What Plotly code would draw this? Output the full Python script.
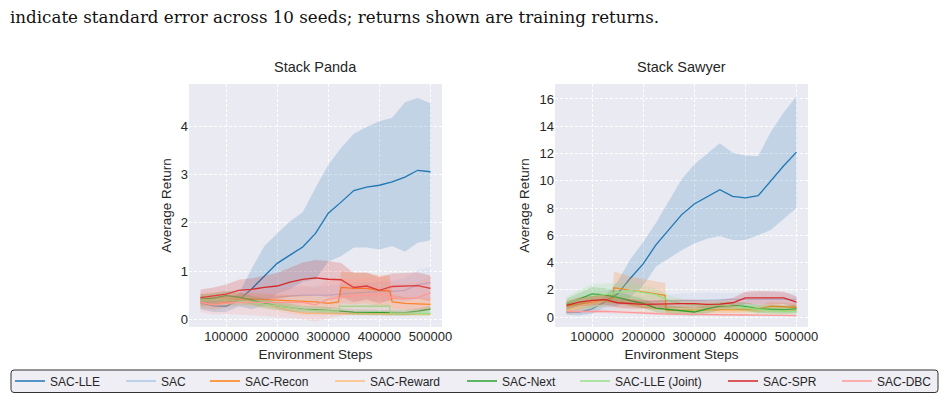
import plotly.graph_objects as go

# ---------------- data ----------------
STEPS = [50000, 75000, 100000, 125000, 150000, 175000, 200000, 225000, 250000, 275000,
         300000, 325000, 350000, 375000, 400000, 425000, 450000, 475000, 500000]

SERIES = ["SAC-LLE", "SAC", "SAC-Recon", "SAC-Reward", "SAC-Next", "SAC-LLE (Joint)", "SAC-SPR", "SAC-DBC"]
COLORS = ["#1f77b4", "#aec7e8", "#ff7f0e", "#ffbb78", "#2ca02c", "#98df8a", "#d62728", "#ff9896"]

X_TICKS = [100000, 200000, 300000, 400000, 500000]
PANDA_Y_TICKS = [0, 1, 2, 3, 4]
SAWYER_Y_TICKS = [0, 2, 4, 6, 8, 10, 12, 14, 16]

# ---- Stack Panda ----
PANDA_LLE_MEAN = [0.35, 0.28, 0.27, 0.40, 0.63, 0.90, 1.16, 1.33, 1.50, 1.78, 2.20, 2.43, 2.67, 2.74, 2.78, 2.85, 2.95, 3.09, 3.06]
PANDA_LLE_SE = [0.14, 0.13, 0.12, 0.13, 0.42, 0.62, 0.62, 0.70, 0.72, 0.95, 1.00, 1.12, 1.18, 1.25, 1.33, 1.33, 1.55, 1.50, 1.42]

PANDA_SAC_MEAN = [0.35, 0.36, 0.38, 0.40, 0.42, 0.44, 0.45, 0.47, 0.50, 0.50, 0.50, 0.52, 0.54, 0.56, 0.58, 0.58, 0.60, 0.72, 0.76]
PANDA_SAC_SE = [0.12, 0.12, 0.12, 0.13, 0.14, 0.15, 0.16, 0.17, 0.18, 0.18, 0.20, 0.20, 0.20, 0.20, 0.20, 0.22, 0.25, 0.30, 0.33]

PANDA_RECON_STEPS = [50000, 75000, 100000, 125000, 150000, 175000, 200000, 225000, 250000, 275000, 300000,
                     320000, 325000, 350000, 375000, 400000, 420000, 425000, 450000, 475000, 500000]
PANDA_RECON_MEAN = [0.35, 0.30, 0.35, 0.42, 0.42, 0.41, 0.40, 0.39, 0.38, 0.36, 0.33,
                    0.36, 0.66, 0.64, 0.64, 0.60, 0.59, 0.36, 0.33, 0.32, 0.31]
PANDA_RECON_SE = [0.12, 0.10, 0.10, 0.12, 0.12, 0.12, 0.12, 0.12, 0.12, 0.12, 0.12,
                  0.12, 0.33, 0.33, 0.32, 0.32, 0.32, 0.15, 0.13, 0.12, 0.12]

PANDA_REWARD_MEAN = [0.42, 0.45, 0.45, 0.42, 0.38, 0.32, 0.25, 0.18, 0.13, 0.12, 0.12, 0.12, 0.12, 0.11, 0.11, 0.11, 0.10, 0.10, 0.10]
PANDA_REWARD_SE = [0.12, 0.12, 0.12, 0.10, 0.10, 0.09, 0.08, 0.07, 0.05, 0.05, 0.04, 0.04, 0.04, 0.04, 0.04, 0.03, 0.03, 0.03, 0.03]

PANDA_NEXT_MEAN = [0.42, 0.44, 0.49, 0.46, 0.40, 0.33, 0.28, 0.24, 0.21, 0.20, 0.19, 0.17, 0.15, 0.15, 0.14, 0.14, 0.14, 0.17, 0.21]
PANDA_NEXT_SE = [0.10, 0.10, 0.10, 0.10, 0.09, 0.09, 0.08, 0.08, 0.07, 0.07, 0.07, 0.06, 0.06, 0.06, 0.06, 0.06, 0.06, 0.06, 0.07]

PANDA_JOINT_STEPS = [50000, 75000, 100000, 125000, 150000, 175000, 200000, 225000, 250000, 275000, 300000,
                     320000, 322000, 350000, 375000, 400000, 420000, 422000, 450000, 475000, 500000]
PANDA_JOINT_MEAN = [0.40, 0.40, 0.40, 0.38, 0.35, 0.32, 0.28, 0.24, 0.20, 0.18, 0.17,
                    0.17, 0.27, 0.27, 0.27, 0.27, 0.27, 0.13, 0.12, 0.12, 0.12]
PANDA_JOINT_SE = [0.12, 0.12, 0.10, 0.10, 0.10, 0.09, 0.08, 0.07, 0.06, 0.06, 0.06,
                  0.06, 0.05, 0.05, 0.05, 0.05, 0.05, 0.05, 0.05, 0.05, 0.05]

PANDA_SPR_MEAN = [0.45, 0.48, 0.52, 0.60, 0.62, 0.66, 0.69, 0.77, 0.83, 0.86, 0.83, 0.82, 0.66, 0.69, 0.60, 0.68, 0.69, 0.70, 0.64]
PANDA_SPR_SE = [0.17, 0.18, 0.20, 0.22, 0.23, 0.25, 0.27, 0.30, 0.35, 0.37, 0.38, 0.35, 0.30, 0.28, 0.27, 0.27, 0.27, 0.27, 0.27]

PANDA_DBC_MEAN = [0.35, 0.30, 0.33, 0.35, 0.35, 0.35, 0.34, 0.35, 0.35, 0.30, 0.42, 0.45, 0.49, 0.50, 0.52, 0.45, 0.42, 0.45, 0.55]
PANDA_DBC_SE = [0.20, 0.20, 0.22, 0.25, 0.27, 0.28, 0.30, 0.32, 0.35, 0.35, 0.40, 0.38, 0.35, 0.35, 0.35, 0.33, 0.32, 0.32, 0.35]

# ---- Stack Sawyer ----
SAWYER_LLE_MEAN = [0.37, 0.37, 0.60, 1.10, 1.70, 2.85, 3.90, 5.30, 6.40, 7.50, 8.30, 8.85, 9.35, 8.85, 8.75, 8.90, 10.0, 11.1, 12.1]
SAWYER_LLE_SE = [0.20, 0.25, 0.35, 0.40, 0.90, 1.40, 1.60, 1.60, 2.10, 2.60, 2.90, 3.10, 3.40, 3.20, 3.10, 2.90, 3.60, 3.90, 4.10]

SAWYER_SAC_MEAN = [0.50, 0.60, 0.80, 0.90, 1.00, 1.05, 1.10, 1.15, 1.20, 1.20, 1.20, 1.25, 1.25, 1.30, 1.30, 1.30, 1.35, 1.30, 1.30]
SAWYER_SAC_SE = [0.30, 0.35, 0.40, 0.45, 0.50, 0.50, 0.50, 0.50, 0.50, 0.50, 0.55, 0.55, 0.50, 0.50, 0.50, 0.50, 0.50, 0.50, 0.45]

SAWYER_RECON_STEPS = [50000, 75000, 100000, 125000, 140000, 143000, 160000, 175000, 200000, 225000, 243000,
                      245000, 275000, 300000, 325000, 350000, 375000, 400000, 425000, 450000, 475000, 500000]
SAWYER_RECON_MEAN = [0.80, 0.95, 1.10, 1.25, 1.40, 2.15, 2.05, 1.95, 1.85, 1.70, 1.60,
                     0.50, 0.55, 0.50, 0.55, 0.55, 0.55, 0.55, 0.60, 0.80, 0.75, 0.70]
SAWYER_RECON_SE = [0.40, 0.40, 0.40, 0.40, 0.40, 1.20, 1.10, 1.00, 0.95, 0.90, 0.90,
                   0.25, 0.25, 0.25, 0.25, 0.25, 0.25, 0.25, 0.25, 0.30, 0.30, 0.30]

SAWYER_REWARD_MEAN = [0.50, 0.70, 1.00, 1.20, 1.10, 0.90, 0.75, 0.60, 0.55, 0.50, 0.50, 0.50, 0.50, 0.48, 0.47, 0.46, 0.45, 0.45, 0.45]
SAWYER_REWARD_SE = [0.35, 0.40, 0.45, 0.50, 0.50, 0.45, 0.40, 0.35, 0.30, 0.30, 0.30, 0.30, 0.30, 0.30, 0.30, 0.30, 0.30, 0.30, 0.30]

SAWYER_NEXT_MEAN = [0.95, 1.35, 1.70, 1.62, 1.45, 1.20, 1.00, 0.65, 0.55, 0.45, 0.37, 0.60, 0.80, 0.85, 0.78, 0.60, 0.58, 0.55, 0.60]
SAWYER_NEXT_SE = [0.40, 0.45, 0.50, 0.50, 0.45, 0.40, 0.35, 0.30, 0.30, 0.30, 0.30, 0.30, 0.30, 0.30, 0.30, 0.30, 0.30, 0.30, 0.30]

SAWYER_JOINT_MEAN = [1.00, 1.30, 1.50, 1.65, 1.80, 1.95, 1.80, 1.65, 1.20, 1.00, 0.90, 0.90, 0.90, 0.80, 0.70, 0.55, 0.45, 0.42, 0.40]
SAWYER_JOINT_SE = [0.50, 0.70, 0.90, 0.80, 0.70, 0.60, 0.50, 0.45, 0.40, 0.35, 0.30, 0.30, 0.30, 0.30, 0.30, 0.30, 0.25, 0.25, 0.25]

SAWYER_SPR_MEAN = [0.85, 1.10, 1.22, 1.28, 1.05, 0.97, 0.93, 0.95, 0.98, 0.98, 0.98, 0.93, 0.95, 1.05, 1.40, 1.42, 1.40, 1.40, 1.10]
SAWYER_SPR_SE = [0.30, 0.35, 0.35, 0.35, 0.35, 0.35, 0.30, 0.30, 0.30, 0.30, 0.30, 0.30, 0.30, 0.35, 0.45, 0.50, 0.50, 0.45, 0.40]

SAWYER_DBC_MEAN = [0.40, 0.42, 0.45, 0.42, 0.38, 0.32, 0.30, 0.25, 0.22, 0.20, 0.20, 0.18, 0.17, 0.16, 0.15, 0.14, 0.12, 0.10, 0.10]
SAWYER_DBC_SE = [0.15, 0.15, 0.15, 0.15, 0.13, 0.12, 0.10, 0.10, 0.08, 0.08, 0.08, 0.08, 0.07, 0.07, 0.07, 0.06, 0.06, 0.05, 0.05]

PANDA = [
    (STEPS, PANDA_LLE_MEAN, PANDA_LLE_SE),
    (STEPS, PANDA_SAC_MEAN, PANDA_SAC_SE),
    (PANDA_RECON_STEPS, PANDA_RECON_MEAN, PANDA_RECON_SE),
    (STEPS, PANDA_REWARD_MEAN, PANDA_REWARD_SE),
    (STEPS, PANDA_NEXT_MEAN, PANDA_NEXT_SE),
    (PANDA_JOINT_STEPS, PANDA_JOINT_MEAN, PANDA_JOINT_SE),
    (STEPS, PANDA_SPR_MEAN, PANDA_SPR_SE),
    (STEPS, PANDA_DBC_MEAN, PANDA_DBC_SE),
]
SAWYER = [
    (STEPS, SAWYER_LLE_MEAN, SAWYER_LLE_SE),
    (STEPS, SAWYER_SAC_MEAN, SAWYER_SAC_SE),
    (SAWYER_RECON_STEPS, SAWYER_RECON_MEAN, SAWYER_RECON_SE),
    (STEPS, SAWYER_REWARD_MEAN, SAWYER_REWARD_SE),
    (STEPS, SAWYER_NEXT_MEAN, SAWYER_NEXT_SE),
    (STEPS, SAWYER_JOINT_MEAN, SAWYER_JOINT_SE),
    (STEPS, SAWYER_SPR_MEAN, SAWYER_SPR_SE),
    (STEPS, SAWYER_DBC_MEAN, SAWYER_DBC_SE),
]

# legend label left edges (pixels) – matplotlib "expand" legend layout
LEGEND_TEXT_PX = [50, 161, 245, 370, 502, 615, 763, 877]

# ---------------- figure ----------------
W, H = 944, 419
FONT = "Liberation Sans, Arial, sans-serif"
TXT = "#262626"


def rgba(hex_color, a):
    h = hex_color.lstrip("#")
    r, g, b = int(h[0:2], 16), int(h[2:4], 16), int(h[4:6], 16)
    return f"rgba({r},{g},{b},{a})"


fig = go.Figure()

for panel, (xa, ya) in ((PANDA, ("x", "y")), (SAWYER, ("x2", "y2"))):
    for i, (xs, mean, se) in enumerate(panel):
        hi = [m + s for m, s in zip(mean, se)]
        lo = [m - s for m, s in zip(mean, se)]
        fig.add_trace(go.Scatter(
            x=list(xs) + list(xs)[::-1], y=hi + lo[::-1],
            fill="toself", fillcolor=rgba(COLORS[i], 0.2), line=dict(width=0),
            mode="lines", hoverinfo="skip", showlegend=False, xaxis=xa, yaxis=ya))
        fig.add_trace(go.Scatter(
            x=xs, y=mean, mode="lines", name=SERIES[i],
            line=dict(color=COLORS[i], width=1.3),
            showlegend=(xa == "x"),
            legend="legend" if i == 0 else f"legend{i + 1}",
            xaxis=xa, yaxis=ya))

axis_common = dict(
    showgrid=True, gridcolor="white", gridwidth=1, griddash="3px,2px",
    zeroline=False, showline=False, ticks="",
    tickfont=dict(family=FONT, size=13, color=TXT),
)

Y0, Y1 = 1 - 327 / H, 1 - 84 / H
fig.update_layout(
    width=W, height=H,
    margin=dict(l=0, r=0, t=0, b=0, autoexpand=False),
    paper_bgcolor="white", plot_bgcolor="#EAEAF2",
    font=dict(family=FONT, color=TXT),
    xaxis=dict(domain=[189 / W, 442 / W], range=[27500, 522500], anchor="y",
               tickvals=X_TICKS, ticktext=[str(v) for v in X_TICKS],
               title=dict(text="Environment Steps", font=dict(size=13.5, color=TXT), standoff=6),
               **axis_common),
    yaxis=dict(domain=[Y0, Y1], range=[-0.16, 4.88], anchor="x",
               tickvals=PANDA_Y_TICKS, ticktext=[str(v) for v in PANDA_Y_TICKS],
               title=dict(text="Average Return", font=dict(size=13.5, color=TXT), standoff=6),
               **axis_common),
    xaxis2=dict(domain=[555 / W, 808 / W], range=[27500, 522500], anchor="y2",
                tickvals=X_TICKS, ticktext=[str(v) for v in X_TICKS],
                title=dict(text="Environment Steps", font=dict(size=13.5, color=TXT), standoff=6),
                **axis_common),
    yaxis2=dict(domain=[Y0, Y1], range=[-0.73, 17.1], anchor="x2",
                tickvals=SAWYER_Y_TICKS, ticktext=[str(v) for v in SAWYER_Y_TICKS],
                title=dict(text="Average Return", font=dict(size=13.5, color=TXT), standoff=6),
                **axis_common),
)

# one single-entry legend per series, placed like matplotlib's expanded legend
LEG_Y = 1 - 381 / H
for i, px in enumerate(LEGEND_TEXT_PX):
    key = "legend" if i == 0 else f"legend{i + 1}"
    fig.update_layout({key: dict(
        x=(px - 40) / W, y=LEG_Y, xanchor="left", yanchor="middle",
        orientation="h", bgcolor="rgba(0,0,0,0)", borderwidth=0,
        font=dict(family=FONT, size=12, color=TXT), itemwidth=30,
    )})

# legend frame (rounded rectangle)
x0, x1 = 11 / W, 938 / W
y0, y1 = 1 - 392.5 / H, 1 - 370 / H
rx, ry = 3 / W, 3 / H
path = (f"M{x0 + rx},{y1} L{x1 - rx},{y1} Q{x1},{y1} {x1},{y1 - ry} "
        f"L{x1},{y0 + ry} Q{x1},{y0} {x1 - rx},{y0} L{x0 + rx},{y0} "
        f"Q{x0},{y0} {x0},{y0 + ry} L{x0},{y1 - ry} Q{x0},{y1} {x0 + rx},{y1} Z")
fig.add_shape(type="path", path=path, xref="paper", yref="paper",
              fillcolor="#EEEEF4", line=dict(color="#333333", width=1), layer="below")

# subplot titles
fig.add_annotation(text="Stack Panda", x=(189 + 442) / 2 / W, y=1 - 67 / H, xref="paper", yref="paper",
                   showarrow=False, xanchor="center", yanchor="middle",
                   font=dict(family=FONT, size=14.5, color=TXT))
fig.add_annotation(text="Stack Sawyer", x=(555 + 808) / 2 / W, y=1 - 67 / H, xref="paper", yref="paper",
                   showarrow=False, xanchor="center", yanchor="middle",
                   font=dict(family=FONT, size=14.5, color=TXT))

# caption fragment from the page
fig.add_annotation(text="indicate standard error across 10 seeds; returns shown are training returns.",
                   x=8 / W, y=1 - 17 / H, xref="paper", yref="paper", showarrow=False,
                   xanchor="left", yanchor="middle",
                   font=dict(family="DejaVu Serif, serif", size=16.7, color="#111111"))

fig.write_html("out.html")
